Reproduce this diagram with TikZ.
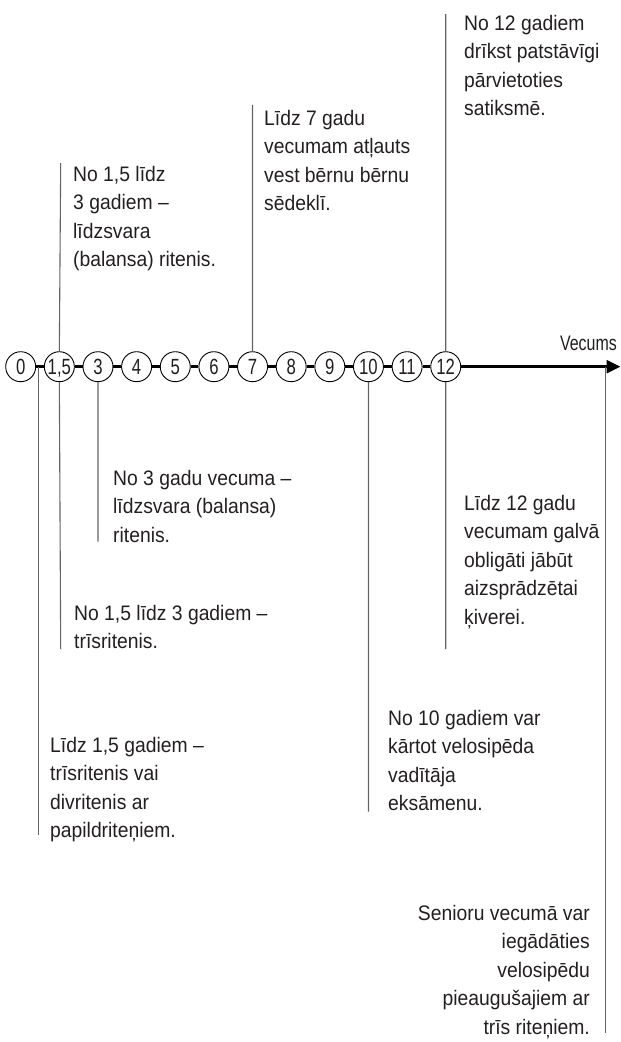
\documentclass[tikz,border=0pt]{standalone}
\usepackage{fontspec}
\setmainfont{Liberation Sans}[FakeStretch=0.92]
\newfontfamily\narrowfam{Liberation Sans}[FakeStretch=0.76]
\usepackage{tikz}
\usetikzlibrary{arrows.meta, positioning}
\usepackage{xcolor}
\definecolor{textgray}{RGB}{35,31,32}
\definecolor{leadergray}{RGB}{100,100,102}
\newcommand{\notefont}{\fontsize{21}{28.5}\selectfont}
\newcommand{\agefont}{\narrowfam\fontsize{22}{22}\selectfont}
\newcommand{\axisfont}{\narrowfam\fontsize{21}{21}\selectfont}
\tikzset{
  agecircle/.style={circle, draw=black, line width=0.9pt, fill=white, minimum size=30pt, inner sep=0pt,
    text height=15.8pt, text depth=0pt, font=\agefont, text=textgray},
  agelink/.style={line width=2.6pt, color=black},
  leader/.style={draw=leadergray, line width=1.1pt},
  notebox/.style={anchor=north west, inner sep=0pt, align=left, font=\notefont, text=textgray}
}

\begin{document}
\begin{tikzpicture}[x=1pt, y=-1pt]
  \useasboundingbox (0,0) rectangle (621,1042);

  % age axis
  \foreach \lab [count=\i from 0] in {0,{1,5},3,4,5,6,7,8,9,10,11,12}
    \node[agecircle] (c\i) at ({20.7+38.64*\i},366.7) {\lab};
  \foreach \i [remember=\i as \prev (initially 0)] in {1,...,11}
    \draw[agelink] (c\prev) -- (c\i);
  \coordinate (tip) at (620.5,366.7);
  \draw[agelink, -{Triangle[length=14pt, width=13pt]}] (c11) -- (tip);
  \node[anchor=base east, inner sep=0pt, font=\axisfont, text=textgray] (axis) at (617,350) {Vecums};

  % leader ends
  \coordinate (up15) at (60.7,163);
  \coordinate (up7) at (252.5,105);
  \coordinate (up12) at (445.7,14);
  \coordinate (dn15) at (60.7,649);
  \coordinate (dn3) at (98.0,541.7);
  \coordinate (dn10) at (368.5,811.7);
  \coordinate (dn12) at (445.7,649);
  \coordinate (ax0) at (38.3,366.7);
  \coordinate (dn0) at (38.3,835);
  \coordinate (axend) at (605.7,366.7);
  \coordinate (dnend) at (605.7,1032.7);

  \draw[leader] (c1.north) -- (up15);
  \draw[leader] (c6.north) -- (up7);
  \draw[leader] (c11.north) -- (up12);
  \draw[leader] (c1.south) -- (dn15);
  \draw[leader] (c2.south) -- (dn3);
  \draw[leader] (c9.south) -- (dn10);
  \draw[leader] (c11.south) -- (dn12);
  \draw[leader] (ax0) -- (dn0);
  \draw[leader] (axend) -- (dnend);

  % notes above
  \node[notebox] (n15up) at (73,166) {No 1,5 līdz\\3 gadiem –\\līdzsvara\\(balansa) ritenis.};
  \node[notebox] (n7up) at (264,110) {Līdz 7 gadu\\vecumam atļauts\\vest bērnu bērnu\\sēdeklī.};
  \node[notebox] (n12up) at (464,15) {No 12 gadiem\\drīkst patstāvīgi\\pārvietoties\\satiksmē.};

  % notes below
  \node[notebox] (n3dn) at (113,470) {No 3 gadu vecuma –\\līdzsvara (balansa)\\ritenis.};
  \node[notebox] (n15dn) at (74,605) {No 1,5 līdz 3 gadiem –\\trīsritenis.};
  \node[notebox] (n0dn) at (50,737) {Līdz 1,5 gadiem –\\trīsritenis vai\\divritenis ar\\papildriteņiem.};
  \node[notebox] (n12dn) at (464,495) {Līdz 12 gadu\\vecumam galvā\\obligāti jābūt\\aizsprādzētai\\ķiverei.};
  \node[notebox] (n10dn) at (388,710) {No 10 gadiem var\\kārtot velosipēda\\vadītāja\\eksāmenu.};
  \node[notebox, anchor=north east, align=right] (nsen) at (590,905) {Senioru vecumā var\\iegādāties\\velosipēdu\\pieaugušajiem ar\\trīs riteņiem.};
\end{tikzpicture}
\end{document}
